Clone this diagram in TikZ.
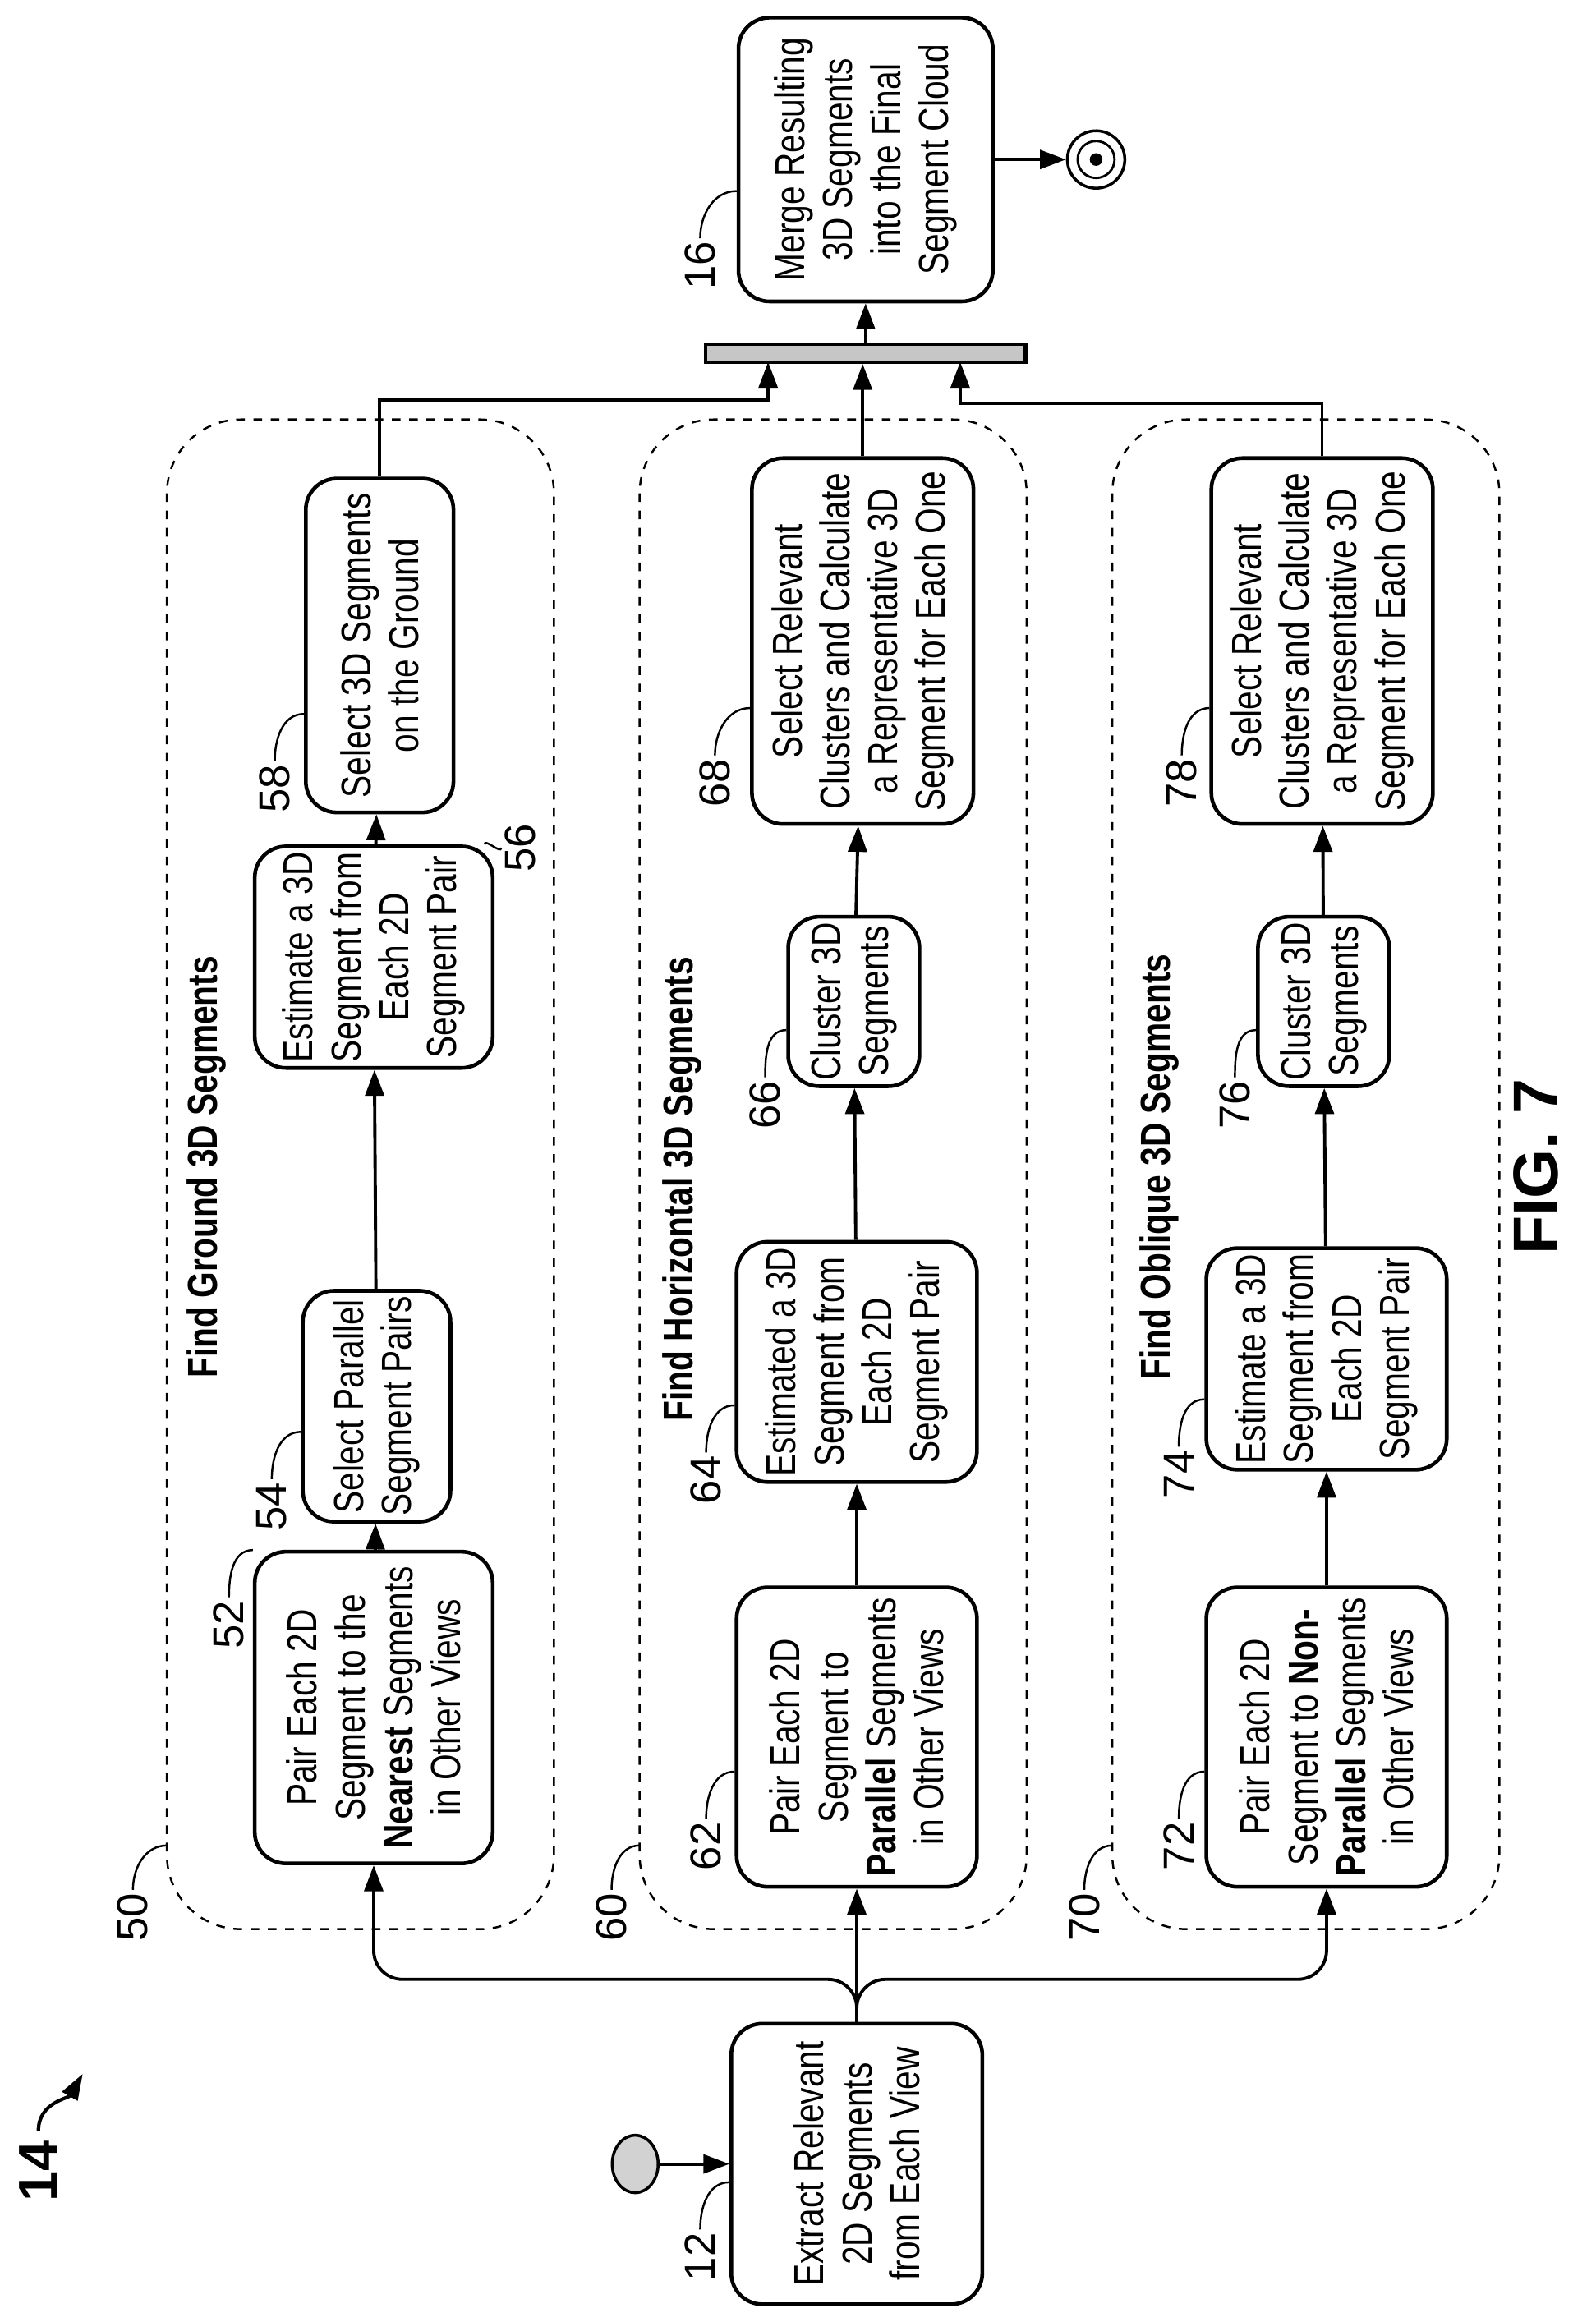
\documentclass[tikz,border=0pt]{standalone}
\usepackage{fontspec}
\setmainfont{Liberation Sans}[FakeStretch=0.8]
\newfontfamily\numfont{Liberation Sans}
\usetikzlibrary{arrows.meta,positioning,calc,shapes.geometric}

\tikzset{
  box/.style={draw, line width=1.3pt, rounded corners=0.38cm, rotate=90, align=center,
    font=\fontsize{14.5}{16.6}\selectfont, inner sep=2pt},
  group/.style={draw, dashed, line width=0.7pt, rounded corners=0.9cm},
  title/.style={rotate=90, font=\fontsize{14.5}{16}\selectfont\bfseries},
  ref/.style={rotate=90, font=\fontsize{15}{16}\numfont, inner sep=1pt},
  lead/.style={line width=0.7pt},
  line/.style={line width=1.1pt},
  arr/.style={line width=1.1pt, -{Triangle[length=9pt,width=6.5pt]}},
}

\begin{document}
\begin{tikzpicture}[x=0.018cm, y=-0.018cm]
  \useasboundingbox (0,0) rectangle (1080,1572);

  % dashed groups
  \draw[group] (113,284) rectangle (375,1306);
  \draw[group] (433,284) rectangle (695,1306);
  \draw[group] (753,284) rectangle (1015,1306);

  \node[title] (t50) at (140,790) {Find Ground 3D Segments};
  \node[title] (t60) at (462,805) {Find Horizontal 3D Segments};
  \node[title] (t70) at (785,790) {Find Oblique 3D Segments};

  % boxes
  \node[box, minimum width=3.42cm, minimum height=3.06cm] (b12) at (580,1465) {Extract Relevant\\2D Segments\\from Each View};
  \node[box, minimum width=3.8cm, minimum height=2.9cm] (b52) at (253,1156) {Pair Each 2D\\Segment to the\\\textbf{Nearest} Segments\\in Other Views};
  \node[box, minimum width=1.7cm, minimum height=1.8cm] (b54) at (255,952) {Select Parallel\\Segment Pairs};
  \node[box, minimum width=1.8cm, minimum height=2.9cm] (b56) at (253,648) {Estimate a 3D\\Segment from\\Each 2D\\Segment Pair};
  \node[box, minimum width=4.07cm, minimum height=1.8cm] (b58) at (257,437) {Select 3D Segments\\on the Ground};

  \node[box, minimum width=3.65cm, minimum height=2.93cm] (b62) at (580,1176) {Pair Each 2D\\Segment to\\\textbf{Parallel} Segments\\in Other Views};
  \node[box, minimum width=2.75cm, minimum height=2.93cm] (b64) at (580,922) {Estimated a 3D\\Segment from\\Each 2D\\Segment Pair};
  \node[box, minimum width=2.03cm, minimum height=1.6cm] (b66) at (578,678) {Cluster 3D\\Segments};
  \node[box, minimum width=4.46cm, minimum height=2.7cm] (b68) at (584,434) {Select Relevant\\Clusters and Calculate\\a Representative 3D\\Segment for Each One};

  \node[box, minimum width=3.65cm, minimum height=2.93cm] (b72) at (898,1176) {Pair Each 2D\\Segment to \textbf{Non-}\\\textbf{Parallel} Segments\\in Other Views};
  \node[box, minimum width=2.55cm, minimum height=2.93cm] (b74) at (898,920) {Estimate a 3D\\Segment from\\Each 2D\\Segment Pair};
  \node[box, minimum width=2.03cm, minimum height=1.6cm] (b76) at (896,678) {Cluster 3D\\Segments};
  \node[box, minimum width=4.46cm, minimum height=2.7cm] (b78) at (895,434) {Select Relevant\\Clusters and Calculate\\a Representative 3D\\Segment for Each One};

  \node[box, minimum width=3.46cm, minimum height=3.1cm] (b16) at (586,108) {Merge Resulting\\3D Segments\\into the Final\\Segment Cloud};

  % start, bar, end
  \node[draw, line width=1pt, ellipse, fill=gray!35, minimum width=0.56cm, minimum height=0.7cm] (start) at (430,1465) {};
  \node[draw, line width=1.3pt, fill=gray!45, minimum width=3.9cm, minimum height=0.22cm, inner sep=0pt] (bar) at (586,239) {};
  \node[draw, line width=1pt, circle, minimum size=0.7cm, inner sep=0pt] (end) at (742,108) {};
  \node[draw, line width=0.8pt, circle, minimum size=0.45cm, inner sep=0pt] (endm) at (742,108) {};
  \node[draw, fill=black, circle, minimum size=0.14cm, inner sep=0pt] (endi) at (742,108) {};

  \coordinate (split) at (580,1340);
  \coordinate (in1) at (520,245);
  \coordinate (in3) at (650,245);

  % connectors
  \draw[arr] (start) -- (b12.north);
  \draw[arr, rounded corners=0.35cm] (b12.east) -- (split) -| (b52.west);
  \draw[arr, rounded corners=0.35cm] (b12.east) -- (split) -| (b72.west);
  \draw[arr] (b12.east) -- (b62.west);

  \draw[arr] (b52) -- (b54);
  \draw[arr] (b54) -- (b56);
  \draw[arr] (b56) -- (b58);
  \draw[arr] (b62) -- (b64);
  \draw[arr] (b64) -- (b66);
  \draw[arr] (b66) -- (b68);
  \draw[arr] (b72) -- (b74);
  \draw[arr] (b74) -- (b76);
  \draw[arr] (b76) -- (b78);

  \draw[arr] (b58.east) -- ++(0,-52) -| (in1);
  \draw[arr] (b68.east) -- (b68.east |- bar.south);
  \draw[arr] (b78.east) -- ++(0,-36) -| (in3);
  \draw[arr] (bar.north) -- (b16.west);
  \draw[arr] (b16.south) -- (end);

  % reference numbers
  \node[ref] (l12) at (474,1528) {12};
  \draw[lead] (l12.east) to[out=90,in=180] ($(b12.north |- l12.east)+(0,-32)$);
  \node[ref] (l16) at (474,180) {16};
  \draw[lead] (l16.east) to[out=90,in=180] ($(b16.north |- l16.east)+(0,-32)$);
  \node[ref] (l50) at (90,1298) {50};
  \draw[lead] (l50.east) to[out=90,in=180] ($(l50.east)+(23,-30)$);
  \node[ref] (l60) at (414,1298) {60};
  \draw[lead] (l60.east) to[out=90,in=180] ($(l60.east)+(19,-30)$);
  \node[ref] (l70) at (734,1298) {70};
  \draw[lead] (l70.east) to[out=90,in=180] ($(l70.east)+(19,-30)$);
  \node[ref] (l52) at (155,1100) {52};
  \draw[lead] (l52.east) to[out=90,in=180] ($(b52.north |- l52.east)+(0,-32)$);
  \node[ref] (l54) at (184,1020) {54};
  \draw[lead] (l54.east) to[out=90,in=180] ($(b54.north |- l54.east)+(0,-32)$);
  \node[ref] (l56) at (352,574) {56};
  \draw[lead] (l56.north) to[out=-90,in=90] ($(b56.east)+(75,0)$);
  \node[ref] (l58) at (186,534) {58};
  \draw[lead] (l58.east) to[out=90,in=180] ($(b58.north |- l58.east)+(0,-32)$);
  \node[ref] (l62) at (478,1250) {62};
  \draw[lead] (l62.east) to[out=90,in=180] ($(b62.north |- l62.east)+(0,-32)$);
  \node[ref] (l64) at (478,1002) {64};
  \draw[lead] (l64.east) to[out=90,in=180] ($(b64.north |- l64.east)+(0,-32)$);
  \node[ref] (l66) at (518,748) {66};
  \draw[lead] (l66.east) to[out=90,in=180] ($(b66.north |- l66.east)+(0,-32)$);
  \node[ref] (l68) at (484,530) {68};
  \draw[lead] (l68.east) to[out=90,in=180] ($(b68.north |- l68.east)+(0,-32)$);
  \node[ref] (l72) at (798,1250) {72};
  \draw[lead] (l72.east) to[out=90,in=180] ($(b72.north |- l72.east)+(0,-32)$);
  \node[ref] (l74) at (798,998) {74};
  \draw[lead] (l74.east) to[out=90,in=180] ($(b74.north |- l74.east)+(0,-32)$);
  \node[ref] (l76) at (836,748) {76};
  \draw[lead] (l76.east) to[out=90,in=180] ($(b76.north |- l76.east)+(0,-32)$);
  \node[ref] (l78) at (800,530) {78};
  \draw[lead] (l78.east) to[out=90,in=180] ($(b78.north |- l78.east)+(0,-32)$);

  % figure label
  \node[rotate=90, font=\fontsize{19}{20}\numfont\bfseries] (l14) at (26,1470) {14};
  \coordinate (a14) at (56,1404);
  \draw[line width=1.2pt, -{Triangle[length=9pt,width=6pt]}] (l14.east) to[out=90,in=-120] (a14);
  \node[rotate=90, font=\fontsize{22}{24}\numfont\bfseries] (fig) at (1040,790) {FIG. 7};
\end{tikzpicture}
\end{document}
